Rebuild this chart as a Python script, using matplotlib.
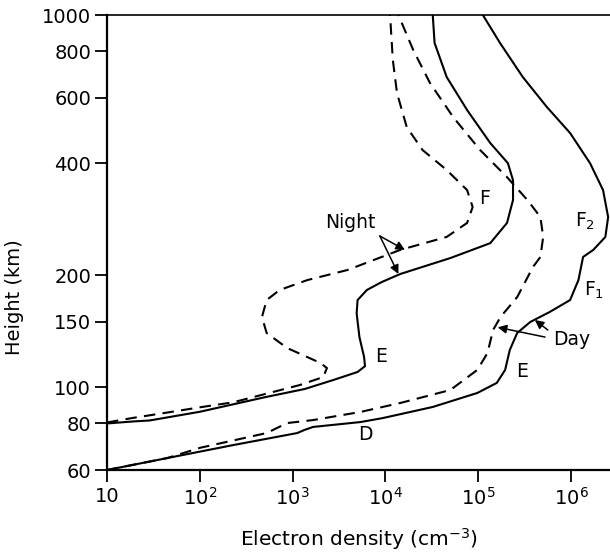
import numpy as np
import matplotlib
matplotlib.use("Agg")
from matplotlib import pyplot as plt

# electron density profiles, log10(N / cm^-3) against height (km)
night_solid_logn = [1.0, 1.28, 1.46, 2.0, 2.71, 3.13, 3.44, 3.70, 3.78, 3.77, 3.72, 3.69, 3.70,
                    3.80, 3.96, 4.16, 4.70, 5.13, 5.31, 5.375, 5.375, 5.32, 5.13, 4.88, 4.66,
                    4.53, 4.51]
night_solid_h = [80, 81.0, 81.5, 86, 94.2, 99, 104.7, 110, 114, 120.7, 136.5, 158, 171.6,
                 182.6, 191.8, 201.6, 222.5, 244, 276.4, 318.5, 360, 400, 453, 555.7,
                 681.6, 841, 1000]

night_dash_logn = [1.0, 1.28, 1.65, 2.0, 2.36, 3.08, 3.33, 3.37, 3.30, 2.94, 2.72, 2.67, 2.72,
                   2.86, 3.16, 3.59, 4.16, 4.66, 4.88, 4.94, 4.88, 4.66, 4.40, 4.23, 4.125,
                   4.08, 4.05]
night_dash_h = [80.5, 82.8, 85.6, 88.4, 91.2, 101.5, 106.6, 112.7, 116.3, 127.6, 140, 154.5,
                171.6, 182.6, 194.2, 206.6, 234, 253.5, 276.4, 305, 338.8, 383.5, 434, 500,
                617, 757, 1000]

day_solid_logn = [1.0, 1.65, 2.36, 3.05, 3.13, 3.22, 3.73, 3.97, 4.51, 4.99, 5.20, 5.29,
                  5.34, 5.42, 5.56, 5.77, 5.99, 6.08, 6.13, 6.24, 6.37, 6.40, 6.345, 6.205,
                  5.99, 5.74, 5.48, 5.235, 5.05]
day_solid_h = [60, 64.6, 70, 75.4, 76.9, 78.3, 80.7, 82.7, 88.6, 96.6, 102.8, 111.4, 126,
               140, 149.8, 159.4, 171.6, 194.2, 224, 234, 253.5, 286.7, 338.8, 400, 482,
               566, 681.6, 841, 1000]

day_dash_logn = [1.0, 1.65, 2.0, 2.72, 2.94, 3.22, 3.73, 4.16, 4.70, 4.99, 5.10, 5.16, 5.24,
                 5.42, 5.59, 5.67, 5.70, 5.67, 5.53, 5.31, 5.02, 4.73, 4.48, 4.30, 4.14]
day_dash_h = [60, 64.6, 68.8, 75.4, 80.2, 81.7, 85.9, 90.8, 98.4, 111.4, 123.7, 142.6,
              154.5, 174.8, 210.5, 224, 253.5, 286.7, 318.5, 367, 434, 532, 657, 805,
              1000]

x_tick_exp = [1, 2, 3, 4, 5, 6]
x_tick_labels = ["10", "$10^2$", "$10^3$", "$10^4$", "$10^5$", "$10^6$"]
y_ticks = [60, 80, 100, 150, 200, 400, 600, 800, 1000]

fig = plt.figure(figsize=(6.1, 5.53), dpi=100)
ax = fig.add_axes([107 / 610, 1 - 470 / 553, 503 / 610, 455 / 553])

line = dict(color="black", lw=1.5, solid_joinstyle="round")
ax.plot(10 ** np.array(night_solid_logn), night_solid_h, **line)
ax.plot(10 ** np.array(night_dash_logn), night_dash_h, dashes=(5.5, 3.5), **line)
ax.plot(10 ** np.array(day_solid_logn), day_solid_h, **line)
ax.plot(10 ** np.array(day_dash_logn), day_dash_h, dashes=(5.5, 3.5), **line)

ax.set_xscale("log")
ax.set_yscale("log")
ax.set_xlim(10, 10 ** 6.42)
ax.set_ylim(60, 1000)

ax.set_xticks([10.0 ** e for e in x_tick_exp])
ax.set_xticklabels(x_tick_labels)
ax.set_yticks(y_ticks)
ax.set_yticklabels([str(v) for v in y_ticks])
ax.minorticks_off()
ax.tick_params(direction="out", length=8.5, width=1.3, labelsize=14, pad=3)
ax.tick_params(axis="x", pad=4)

ax.spines["right"].set_visible(False)
for s in ["left", "bottom"]:
    ax.spines[s].set_linewidth(1.6)
ax.spines["top"].set_linewidth(1.2)

ax.set_xlabel("Electron density (cm$^{-3}$)", fontsize=14.5, labelpad=12)
ax.set_ylabel("Height (km)", fontsize=14)
ax.yaxis.set_label_coords(-0.165, 0.38)

lab = dict(fontsize=13.5, ha="center", va="center")
ax.text(10 ** 3.62, 278, "Night", **lab)
ax.text(10 ** 6.01, 134.6, "Day", **lab)
ax.text(10 ** 5.07, 322, "F", **lab)
ax.text(10 ** 6.15, 280, "F$_2$", **lab)
ax.text(10 ** 6.25, 182.6, "F$_1$", **lab)
ax.text(10 ** 3.95, 120.7, "E", **lab)
ax.text(10 ** 5.47, 110, "E", **lab)
ax.text(10 ** 3.78, 74.5, "D", **lab)

arr = dict(arrowstyle="-|>", color="black", lw=1.1, mutation_scale=13,
           shrinkA=0, shrinkB=0)
ax.annotate("", xy=(10 ** 4.21, 234), xytext=(10 ** 3.94, 255), arrowprops=arr)
ax.annotate("", xy=(10 ** 4.14, 201.6), xytext=(10 ** 3.94, 255), arrowprops=arr)
ax.annotate("", xy=(10 ** 5.21, 145), xytext=(10 ** 5.72, 136.5), arrowprops=arr)
ax.annotate("", xy=(10 ** 5.61, 151.7), xytext=(10 ** 5.75, 142.6), arrowprops=arr)

fig.savefig("out.png", dpi=100)
